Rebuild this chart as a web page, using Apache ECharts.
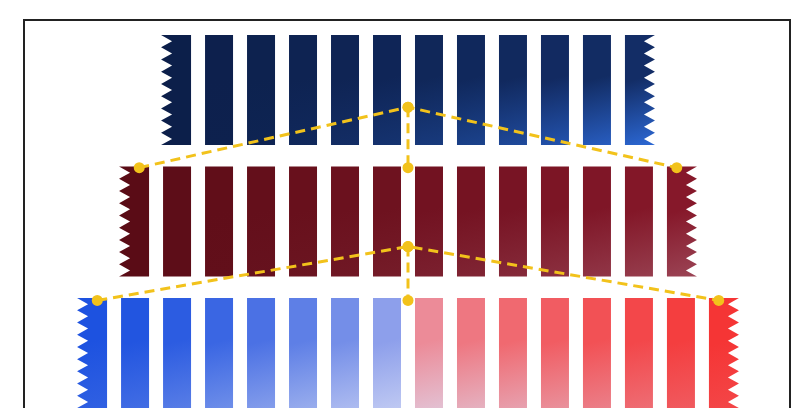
<!DOCTYPE html><html><head><meta charset="utf-8"><script src="https://cdn.jsdelivr.net/npm/echarts@6/dist/echarts.min.js"></script>
<style>html,body{margin:0;background:#fff}#c{width:800px;height:408px}</style></head><body><div id="c"></div><script>
const rowCounts=[12,14,16];
const rowColorsA=[['#0c1f4a','#132d66'],['#5a0c16','#86182a'],['#1a4fd8','#f23030']];
const lineTop=[[-6.4,0.59],[0,0.13],[6.4,0.59]];
const lineBottom=[[-7.4,1.6],[0,1.19],[7.4,1.6]];
const stemTop=[[0,0.13],[0,0.59]];
const stemBottom=[[0,1.19],[0,1.6]];
const bars=[];
rowCounts.forEach((n,r)=>{for(let j=0;j<n;j++)bars.push([j-(n-1)/2,r,j,n]);});
function hex(s){return [1,3,5].map(i=>parseInt(s.substr(i,2),16));}
function mixA(A,B,t){return A.map((v,i)=>Math.round(v+(B[i]-v)*t));}
function css(A){return 'rgb('+A.join(',')+')';}
const chart=echarts.init(document.getElementById('c'));
chart.setOption({
 animation:false,
 grid:{left:20,right:4,top:18,bottom:0},
 xAxis:{type:'value',min:-9.24,max:9.24,show:false},
 yAxis:{type:'value',min:-0.548,max:2.418,inverse:true,show:false},
 graphic:[{type:'rect',shape:{x:24,y:20,width:766,height:400},style:{fill:'none',stroke:'#222',lineWidth:2},z:-1}],
 series:[{type:'custom',data:bars,renderItem:(p,api)=>{
   const x=api.value(0),r=api.value(1),j=api.value(2),n=api.value(3);
   const c=api.coord([x,r]);const w=28,h=110;
   const x0=c[0]-w/2,x1=c[0]+w/2,y0=c[1]-h/2,y1=c[1]+h/2;
   const t=j/(n-1);
   let top,bot;
   if(r===2){
     if(t<0.5){top=mixA(hex('#1d52e0'),hex('#9aa8ec'),Math.pow(t*2,1.6));}
     else{top=mixA(hex('#eaa0b0'),hex('#f53535'),Math.pow((t-0.5)*2,0.6));}
     const m=1-Math.abs(t-0.5)*2;
     bot=mixA(top,hex('#dde2f6'),0.55*m+0.1);
   } else {
     top=mixA(hex(rowColorsA[r][0]),hex(rowColorsA[r][1]),t);
     bot=r===0?mixA(top,hex('#2f6ee0'),t*t*0.9):mixA(top,hex('#b07080'),t*t*0.5);
   }
   const pts=[];const teeth=9,dz=9;
   pts.push([x0,y0]);
   if(j===n-1){pts.push([x1+2,y0]);for(let k=0;k<teeth;k++){pts.push([x1-dz,y0+(k+0.5)*h/teeth]);pts.push([x1+2,y0+(k+1)*h/teeth]);}}
   else{pts.push([x1,y0]);pts.push([x1,y1]);}
   if(j===0){pts[0]=[x0-2,y0];pts.push([x0-2,y1]);for(let k=teeth-1;k>=0;k--){pts.push([x0+dz,y0+(k+0.5)*h/teeth]);pts.push([x0-2,y0+k*h/teeth]);}}
   else{pts.push([x0,y1]);}
   return {type:'polygon',shape:{points:pts},style:{fill:new echarts.graphic.LinearGradient(0,0,1,1,[{offset:0,color:css(top)},{offset:0.4,color:css(top)},{offset:1,color:css(bot)}])}};
 }},
 ...[lineTop,lineBottom,stemTop,stemBottom].map(d=>({type:'line',data:d,symbol:'circle',symbolSize:11,z:5,lineStyle:{color:'#f2c21b',width:3,type:[10,6]},itemStyle:{color:'#f2c21b'}}))
 ]
});
</script></body></html>
